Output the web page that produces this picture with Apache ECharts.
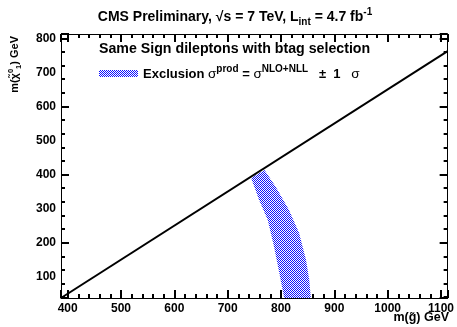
<!DOCTYPE html>
<html>
<head>
<meta charset="utf-8">
<script src="https://cdn.jsdelivr.net/npm/echarts@6/dist/echarts.min.js"></script>
<style>html,body{margin:0;padding:0;background:#fff}#c{width:457px;height:327px}</style>
</head>
<body>
<div id="c"></div>
<script>
// ---- data ----
const xRange = [387.5, 1112.5];
const yRange = [37.5, 812.5];
const xMajor = [400, 500, 600, 700, 800, 900, 1000, 1100];
const yMajor = [100, 200, 300, 400, 500, 600, 700, 800];
// kinematic limit line
const kinX = [387.5, 1112.5];
const kinY = [37.5, 762.5];
// exclusion band (+-1 sigma) edges
const bandLowX = [744, 759, 775, 787, 797, 806];
const bandLowY = [390, 325, 267, 188, 110, 37.5];
const bandHighX = [769, 790, 815, 834, 847, 853, 856];
const bandHighY = [413, 364, 296, 228, 149, 90, 37.5];

// ---- pattern ----
function makeHatch() {
  const c = document.createElement('canvas');
  c.width = 2; c.height = 2;
  const g = c.getContext('2d');
  g.fillStyle = '#ffffff';
  g.fillRect(0, 0, 2, 2);
  g.fillStyle = '#1010ff';
  g.fillRect(0, 0, 1, 1);
  g.fillRect(1, 1, 1, 1);
  return { image: c, repeat: 'repeat' };
}

const FF = '"Liberation Sans", Arial, sans-serif';
const chart = echarts.init(document.getElementById('c'), null, { renderer: 'canvas' });

function axBase(range, pos, labels) {
  return {
    type: 'value', min: range[0], max: range[1], position: pos,
    axisLine: { show: true, onZero: false, lineStyle: { color: '#000', width: 1 } },
    axisTick: { show: true, inside: true, length: 8, lineStyle: { color: '#000', width: 2 } },
    minorTick: { show: true, splitNumber: 5, length: 4, lineStyle: { color: '#000', width: 2 } },
    axisLabel: labels ? { show: true, customValues: labels, color: '#000', fontSize: 12, fontWeight: 'bold', fontFamily: FF, margin: 5, formatter: v => String(v) } : { show: false },
    splitLine: { show: false },
    minorSplitLine: { show: false }
  };
}

const option = {
  animation: false,
  grid: { left: 61, top: 34, right: 8, bottom: 29, containLabel: false },
  xAxis: [axBase(xRange, 'bottom', xMajor), axBase(xRange, 'top', null)],
  yAxis: [axBase(yRange, 'left', yMajor), axBase(yRange, 'right', null)],
  series: [
    {
      type: 'custom', xAxisIndex: 0, yAxisIndex: 0, data: [[0]], silent: true, z: 2,
      renderItem: function (params, api) {
        const pts = [];
        for (let i = 0; i < bandLowX.length; i++) pts.push(api.coord([bandLowX[i], bandLowY[i]]));
        for (let i = bandHighX.length - 1; i >= 0; i--) pts.push(api.coord([bandHighX[i], bandHighY[i]]));
        return { type: 'polygon', shape: { points: pts }, style: { fill: makeHatch(), stroke: null } };
      }
    },
    {
      type: 'line', xAxisIndex: 0, yAxisIndex: 0, z: 3,
      data: kinX.map((x, i) => [x, kinY[i]]),
      symbol: 'none', lineStyle: { color: '#000', width: 2 }
    }
  ],
  graphic: [
    { type: 'text', x: 235, y: 17, style: {
      text: '{a|CMS Preliminary, √s = 7 TeV, L}{sub|int}{a| = 4.7 fb}{sup|-1}',
      align: 'center', verticalAlign: 'middle',
      rich: {
        a: { fontSize: 14, fontWeight: 'bold', fontFamily: FF, fill: '#000', lineHeight: 20 },
        sub: { fontSize: 10, fontWeight: 'bold', fontFamily: FF, fill: '#000', lineHeight: 9, verticalAlign: 'bottom' },
        sup: { fontSize: 10, fontWeight: 'bold', fontFamily: FF, fill: '#000', lineHeight: 9, verticalAlign: 'top' }
      } } },
    { type: 'text', x: 99, y: 49, style: { text: 'Same Sign dileptons with btag selection', fontSize: 14.2, fontWeight: 'bold', fontFamily: FF, fill: '#000', verticalAlign: 'middle' } },
    { type: 'rect', shape: { x: 99, y: 70, width: 39, height: 7 }, style: { fill: makeHatch() } },
    { type: 'text', x: 143, y: 74, style: {
      text: '{a|Exclusion }{g|σ}{sup|prod}{a| = }{g|σ}{sup|NLO+NLL}{a|   ±  1   }{g|σ}',
      verticalAlign: 'middle',
      rich: {
        a: { fontSize: 13, fontWeight: 'bold', fontFamily: FF, fill: '#000', lineHeight: 20 },
        g: { fontSize: 13.5, fontFamily: FF, fill: '#000', lineHeight: 20 },
        sup: { fontSize: 10, fontWeight: 'bold', fontFamily: FF, fill: '#000', lineHeight: 10, verticalAlign: 'top' }
      } } },
    { type: 'text', x: 15, y: 36, rotation: Math.PI / 2, style: {
      text: '{a|m(χ̃}{sup|0}{sub|1}{a|) GeV}', align: 'right', verticalAlign: 'middle',
      rich: {
        a: { fontSize: 11, fontWeight: 'bold', fontFamily: FF, fill: '#000', lineHeight: 16 },
        sup: { fontSize: 7.5, fontWeight: 'bold', fontFamily: FF, fill: '#000', lineHeight: 7, verticalAlign: 'top' },
        sub: { fontSize: 7.5, fontWeight: 'bold', fontFamily: FF, fill: '#000', lineHeight: 7, verticalAlign: 'bottom' }
      } } },
    { type: 'text', x: 449, y: 318, style: { text: 'm(g̃) GeV', align: 'right', verticalAlign: 'middle', fontSize: 12.5, fontWeight: 'bold', fontFamily: FF, fill: '#000' } }
  ]
};
chart.setOption(option);
</script>
</body>
</html>
